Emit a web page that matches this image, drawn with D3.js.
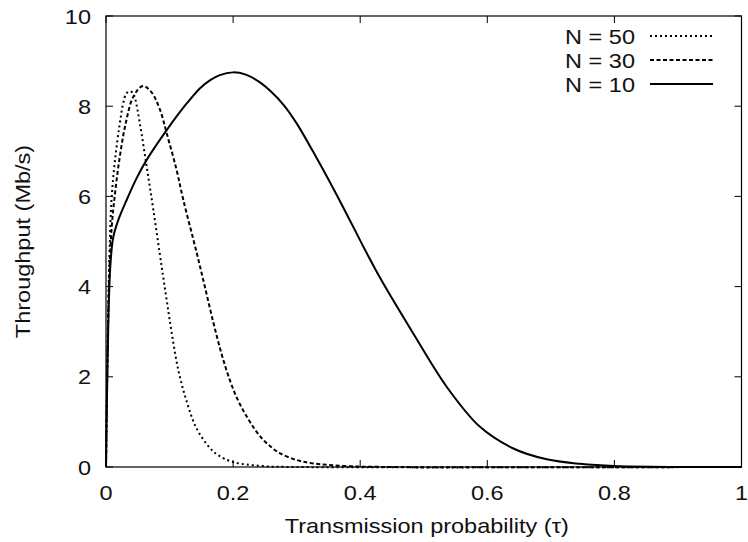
<!DOCTYPE html>
<html><head><meta charset="utf-8">
<script src="https://cdn.jsdelivr.net/npm/d3@7"></script>
<style>body{margin:0;background:#fff}svg{display:block}text{font-family:"Liberation Sans",Arial,sans-serif;fill:#111}</style>
</head><body>
<svg id="c" width="748" height="542"></svg>
<script>
const xTicks = [0, 0.2, 0.4, 0.6, 0.8, 1];
const xTickLabels = ["0", "0.2", "0.4", "0.6", "0.8", "1"];
const yTicks = [0, 2, 4, 6, 8, 10];
const yTickLabels = ["0", "2", "4", "6", "8", "10"];
const seriesNames = ["N = 50", "N = 30", "N = 10"];

const tau50 = [0, 0.0015, 0.003, 0.006, 0.009, 0.0142, 0.021, 0.027, 0.032, 0.037, 0.042, 0.0456, 0.0535, 0.064, 0.0745, 0.0876, 0.0955, 0.1033, 0.1138, 0.127, 0.1427, 0.1636, 0.1767, 0.2, 0.247, 0.3, 1.0];
const thr50 = [0, 1.6, 3.0, 5.0, 6.0, 6.81, 7.55, 8.06, 8.28, 8.33, 8.3, 8.18, 7.6, 6.66, 5.7, 4.44, 3.70, 2.98, 2.15, 1.45, 0.85, 0.42, 0.26, 0.11, 0.02, 0, 0];

const tau30 = [0, 0.002, 0.005, 0.009, 0.0142, 0.021, 0.030, 0.043, 0.058, 0.072, 0.085, 0.0955, 0.111, 0.1217, 0.1427, 0.155, 0.169, 0.182, 0.195, 0.208, 0.221, 0.234, 0.2475, 0.261, 0.274, 0.30, 0.326, 0.379, 0.45, 1.0];
const thr30 = [0, 2.2, 4.2, 5.33, 6.07, 6.81, 7.55, 8.21, 8.45, 8.3, 7.92, 7.4, 6.59, 5.92, 4.75, 4.03, 3.2, 2.5, 1.92, 1.47, 1.13, 0.84, 0.6, 0.43, 0.30, 0.155, 0.08, 0.02, 0, 0];

const tau10 = [0, 0.0015, 0.004, 0.007, 0.0115, 0.02, 0.0325, 0.048, 0.064, 0.0955, 0.127, 0.148, 0.164, 0.179, 0.2, 0.22, 0.24, 0.26, 0.28, 0.3, 0.3315, 0.368, 0.41, 0.431, 0.4835, 0.536, 0.5885, 0.641, 0.6935, 0.746, 0.8, 0.9, 1.0];
const thr10 = [0, 1.5, 3.4, 4.5, 5.1, 5.5, 5.92, 6.4, 6.81, 7.47, 8.06, 8.4, 8.58, 8.69, 8.75, 8.70, 8.55, 8.32, 8.02, 7.62, 6.85, 5.9, 4.75, 4.2, 2.96, 1.78, 0.89, 0.41, 0.17, 0.07, 0.02, 0, 0];

const svg = d3.select("#c");
const L = 106, R = 741.5, T = 16, B = 467;
const SX = 1.12;
const x = d3.scaleLinear().domain([0, 1]).range([L, R]);
const y = d3.scaleLinear().domain([0, 10]).range([B, T]);

const series = [
  {name: seriesNames[0], xs: tau50, ys: thr50, dash: "2,3"},
  {name: seriesNames[1], xs: tau30, ys: thr30, dash: "4,2.5"},
  {name: seriesNames[2], xs: tau10, ys: thr10, dash: null}
];

const line = d3.line().x(d => x(d[0])).y(d => y(d[1])).curve(d3.curveCatmullRom.alpha(0.5));
const g = svg.append("g");
series.forEach(s => {
  g.append("path")
    .attr("d", line(s.xs.map((v, i) => [v, s.ys[i]])))
    .attr("fill", "none").attr("stroke", "#000").attr("stroke-width", 2)
    .attr("stroke-dasharray", s.dash).attr("stroke-linejoin", "round");
});

function label(px, py, anchor, size, str, rot) {
  const gg = svg.append("g").attr("transform", `translate(${px},${py})` + (rot ? ` rotate(${rot})` : "") + ` scale(${SX},1)`);
  gg.append("text").attr("x", 0).attr("y", 0).attr("text-anchor", anchor).attr("font-size", size).text(str);
}

const tl = 7;
const ax = svg.append("g");
xTicks.forEach((t, i) => {
  ax.append("line").attr("x1", x(t)).attr("x2", x(t)).attr("y1", B).attr("y2", B - tl).attr("stroke", "#000").attr("stroke-width", 1);
  ax.append("line").attr("x1", x(t)).attr("x2", x(t)).attr("y1", T).attr("y2", T + tl).attr("stroke", "#000").attr("stroke-width", 1);
  label(x(t), 500, "middle", 21, xTickLabels[i]);
});
yTicks.forEach((t, i) => {
  ax.append("line").attr("x1", L).attr("x2", L + tl).attr("y1", y(t)).attr("y2", y(t)).attr("stroke", "#000").attr("stroke-width", 1);
  ax.append("line").attr("x1", R).attr("x2", R - tl).attr("y1", y(t)).attr("y2", y(t)).attr("stroke", "#000").attr("stroke-width", 1);
  label(91, y(t) + 7.5, "end", 21, yTickLabels[i]);
});
svg.append("rect").attr("x", L).attr("y", T).attr("width", R - L).attr("height", B - T)
  .attr("fill", "none").attr("stroke", "#000").attr("stroke-width", 1.2);

label((L + R) / 2 + 3, 533, "middle", 21, "Transmission probability (τ)");
label(30, (T + B) / 2, "middle", 21, "Throughput (Mb/s)", -90);

series.forEach((s, i) => {
  const cy = 36 + i * 24;
  label(635, cy + 7.5, "end", 21, s.name);
  svg.append("line").attr("x1", 650).attr("x2", 713).attr("y1", cy).attr("y2", cy)
    .attr("stroke", "#000").attr("stroke-width", 2).attr("stroke-dasharray", s.dash);
});
</script>
</body></html>
